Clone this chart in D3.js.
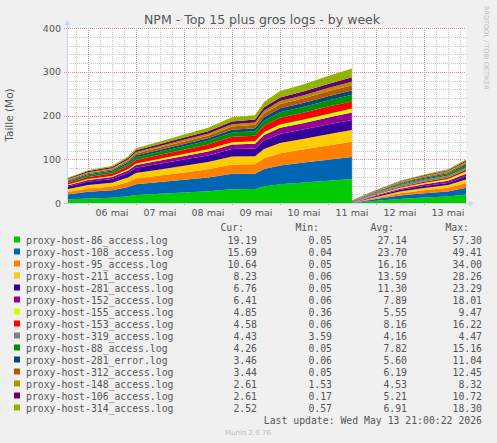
<!DOCTYPE html>
<html><head><meta charset="utf-8">
<script src="https://cdn.jsdelivr.net/npm/d3@7"></script>
<style>body{margin:0;background:#F0F0F0}svg{display:block}</style>
</head><body>
<svg id="c" width="497" height="443"></svg>
<script>
const times = ["2026-05-05T13:30","2026-05-06T00:00","2026-05-06T12:00","2026-05-06T20:00","2026-05-07T00:00","2026-05-07T12:00","2026-05-08T00:00","2026-05-08T12:00","2026-05-09T00:00","2026-05-09T11:30","2026-05-09T16:00","2026-05-10T00:00","2026-05-10T12:00","2026-05-11T00:00","2026-05-11T11:55","2026-05-11T12:00","2026-05-12T00:00","2026-05-12T12:00","2026-05-13T00:00","2026-05-13T12:00","2026-05-13T21:00"];
const names = ["proxy-host-86_access.log","proxy-host-108_access.log","proxy-host-95_access.log","proxy-host-211_access.log","proxy-host-281_access.log","proxy-host-152_access.log","proxy-host-155_access.log","proxy-host-153_access.log","proxy-host-319_access.log","proxy-host-88_access.log","proxy-host-281_error.log","proxy-host-312_access.log","proxy-host-148_access.log","proxy-host-106_access.log","proxy-host-314_access.log"];
const colors = ["#00CC00","#0066B3","#FF8000","#FFCC00","#330099","#990099","#CCFF00","#FF0000","#808080","#008F00","#00487D","#B35A00","#B38F00","#6B006B","#8FB300"];
const s86  = [7.8,10.4,12.0,15.2,18.1,21.0,24.0,27.0,31.6,32.0,38.0,43.0,46.8,50.8,55,0.05,5.0,9.4,12.3,14.6,19.19];
const s108 = [11.7,15.2,17.1,21.1,24.6,26.9,29.3,31.5,35.1,35.0,39.5,43.0,45.6,48.0,50,0.04,4.1,7.7,10.0,11.9,15.69];
const s95  = [5.9,7.8,8.8,11.1,13.1,14.8,16.7,18.6,21.5,21.5,25.0,28.0,30.2,32.7,35,0.05,2.8,5.2,6.8,8.1,10.64];
const s211 = [5.9,7.7,8.6,10.7,12.5,13.9,15.1,16.4,18.3,18.5,21.0,23.0,24.4,25.7,27,0.06,2.1,4.0,5.3,6.3,8.23];
const s281 = [5.9,7.6,8.5,10.5,12.1,13.3,14.4,15.3,16.8,17.4,19.2,20.9,21.4,22.3,23,0.05,1.8,3.3,4.3,5.1,6.76];
const s152 = [2.9,3.9,4.4,5.5,6.5,7.3,8.2,9.1,10.4,11.0,12.6,14.0,14.7,15.8,17,0.06,1.7,3.1,4.1,4.9,6.41];
const s155 = [1.5,2.0,2.2,2.8,3.3,3.7,4.2,4.7,5.4,5.8,6.7,7.4,7.8,8.4,9,0.36,1.3,2.4,3.1,3.7,4.85];
const s153 = [3.9,5.0,5.7,7.1,8.3,9.2,10.1,10.9,12.2,12.7,14.3,15.6,16.0,16.6,16.2,0.06,1.2,2.2,2.9,3.5,4.58];
const s319 = [0,0,0,0,0,0,0,0,0,0,0,0,0,0,0,3.59,3.7,3.9,4.1,4.3,4.43];
const s88  = [2.9,3.8,4.3,5.4,6.3,7.1,7.9,8.6,9.8,10.3,11.7,12.8,13.3,14.2,15,0.05,1.1,2.1,2.7,3.2,4.26];
const s281e= [1.9,2.5,2.9,3.6,4.2,4.7,5.2,5.7,6.5,6.8,7.8,8.6,8.9,9.5,10,0.06,0.9,1.7,2.2,2.6,3.46];
const s312 = [1.9,2.6,2.9,3.6,4.3,4.9,5.5,6.2,7.1,7.6,8.9,9.9,10.4,11.2,12,0.05,0.9,1.7,2.2,2.6,3.44];
const s148 = [1.5,2.0,2.2,2.8,3.3,3.6,4.1,4.4,5.1,5.3,6.1,6.7,7.0,7.5,8,1.53,1.6,1.8,2.0,2.3,2.61];
const s106 = [1.9,2.5,2.9,3.6,4.2,4.7,5.2,5.7,6.5,6.8,7.8,8.5,8.9,9.5,10,0.17,0.7,1.3,1.7,2.0,2.61];
const s314 = [1.5,2.1,2.6,3.4,4.3,5.3,6.6,7.8,9.6,10.0,12.5,14.5,15.9,17.9,20,0.57,0.7,1.2,1.6,1.9,2.52];
const series = [s86,s108,s95,s211,s281,s152,s155,s153,s319,s88,s281e,s312,s148,s106,s314];
const cur = ["19.19","15.69","10.64","8.23","6.76","6.41","4.85","4.58","4.43","4.26","3.46","3.44","2.61","2.61","2.52"];
const mins= ["0.05","0.04","0.05","0.06","0.05","0.06","0.36","0.06","3.59","0.05","0.06","0.05","1.53","0.17","0.57"];
const avgs= ["27.14","23.70","16.16","13.59","11.30","7.89","5.55","8.16","4.16","7.82","5.60","6.19","4.53","5.21","6.91"];
const maxs= ["57.30","49.41","34.00","28.26","23.29","18.01","9.47","16.22","4.47","15.16","11.04","12.45","8.32","10.72","18.30"];
const yTicks = [0,100,200,300,400];

const svg = d3.select("#c");
const parse = d3.timeParse("%Y-%m-%dT%H:%M");
const T = times.map(parse);
const L=67,R=466,TOP=28,B=203;
const x = d3.scaleTime().domain([parse("2026-05-05T13:30"),parse("2026-05-13T21:00")]).range([L,R]);
const y = d3.scaleLinear().domain([0,400]).range([B,TOP]);

svg.append("rect").attr("x",L).attr("y",TOP).attr("width",R-L).attr("height",B-TOP).attr("fill","#fff");
const g = svg.append("g");
d3.timeHour.every(6).range(x.domain()[0],x.domain()[1]).forEach(t=>{
  if(t.getHours()===0) return;
  g.append("line").attr("x1",Math.round(x(t))+.5).attr("x2",Math.round(x(t))+.5).attr("y1",TOP).attr("y2",B).attr("stroke","#c8c8c8").attr("stroke-dasharray","1,1");
});
d3.range(20,400,20).forEach(v=>{ if(v%100) g.append("line").attr("x1",L).attr("x2",R).attr("y1",Math.round(y(v))+.5).attr("y2",Math.round(y(v))+.5).attr("stroke","#c8c8c8").attr("stroke-dasharray","1,1");});
const days = d3.timeDay.range(x.domain()[0],x.domain()[1]);
days.forEach(t=>g.append("line").attr("x1",Math.round(x(t))+.5).attr("x2",Math.round(x(t))+.5).attr("y1",TOP).attr("y2",B+3).attr("stroke","#e88").attr("stroke-dasharray","1,1"));
yTicks.forEach(v=>g.append("line").attr("x1",L-3).attr("x2",R).attr("y1",Math.round(y(v))+.5).attr("y2",Math.round(y(v))+.5).attr("stroke","#e88").attr("stroke-dasharray","1,1"));

const rows = T.map((t,i)=>{const o={t}; series.forEach((s,k)=>o[k]=s[i]); return o;});
const stack = d3.stack().keys(d3.range(series.length))(rows);
const area = d3.area().x(d=>x(d.data.t)).y0(d=>y(d[0])).y1(d=>y(d[1]));
svg.append("g").selectAll("path").data(stack).join("path").attr("d",area).attr("fill",(d,i)=>colors[i]);

svg.append("line").attr("x1",L).attr("x2",R+6).attr("y1",B+.5).attr("y2",B+.5).attr("stroke","#ccd4f0");
svg.append("line").attr("x1",L+.5).attr("x2",L+.5).attr("y1",B).attr("y2",TOP-6).attr("stroke","#ccd4f0");
svg.append("path").attr("d",`M${R+8},${B+.5}L${R+3},${B-2.5}L${R+3},${B+3.5}Z`).attr("fill","#ccd4f0");
svg.append("path").attr("d",`M${L+.5},${TOP-8}L${L-2.5},${TOP-3}L${L+3.5},${TOP-3}Z`).attr("fill","#ccd4f0");

const font="DejaVu Sans", mono="DejaVu Sans Mono", tc="#555";
yTicks.forEach(v=>svg.append("text").attr("x",L-6).attr("y",y(v)+3.5).attr("text-anchor","end").attr("font-family",font).attr("font-size",9.5).attr("fill",tc).text(v));
const fmt = d3.timeFormat("%d");
days.forEach(t=>{const m=d3.timeHour.offset(t,12); if(x(m)<R) svg.append("text").attr("x",x(m)).attr("y",B+13).attr("text-anchor","middle").attr("font-family",font).attr("font-size",9.5).attr("fill",tc).text(fmt(m)+" mai");});

svg.append("text").attr("x",262).attr("y",24).attr("text-anchor","middle").attr("font-family",font).attr("font-size",12.5).attr("fill","#555").text("NPM - Top 15 plus gros logs - by week");
svg.append("text").attr("transform","translate(13,115) rotate(-90)").attr("text-anchor","middle").attr("font-family",font).attr("font-size",10.5).attr("fill","#555").text("Taille (Mo)");
svg.append("text").attr("transform","translate(484,6) rotate(90)").attr("font-family",font).attr("font-size",6.5).attr("fill","#bbb").text("RRDTOOL / TOBI OETIKER");

const lg = svg.append("g").attr("font-family",mono).attr("font-size",9.8).attr("fill","#555");
[["Cur:",244],["Min:",319],["Avg:",394],["Max:",469]].forEach(([t,xx])=>lg.append("text").attr("x",xx).attr("y",231).attr("text-anchor","end").text(t));
names.forEach((n,i)=>{
  const yy=244+i*12;
  svg.append("rect").attr("x",14).attr("y",yy-7.5).attr("width",6).attr("height",6).attr("fill",colors[i]);
  lg.append("text").attr("x",26).attr("y",yy).text(n);
  [[cur,257],[mins,332],[avgs,407],[maxs,482]].forEach(([a,xx])=>lg.append("text").attr("x",xx).attr("y",yy).attr("text-anchor","end").text(a[i]));
});
lg.append("text").attr("x",482).attr("y",424).attr("text-anchor","end").text("Last update: Wed May 13 21:00:22 2026");
svg.append("text").attr("x",248).attr("y",435).attr("text-anchor","middle").attr("font-family",font).attr("font-size",7).attr("fill","#bbb").text("Munin 2.0.76");
</script>
</body></html>
